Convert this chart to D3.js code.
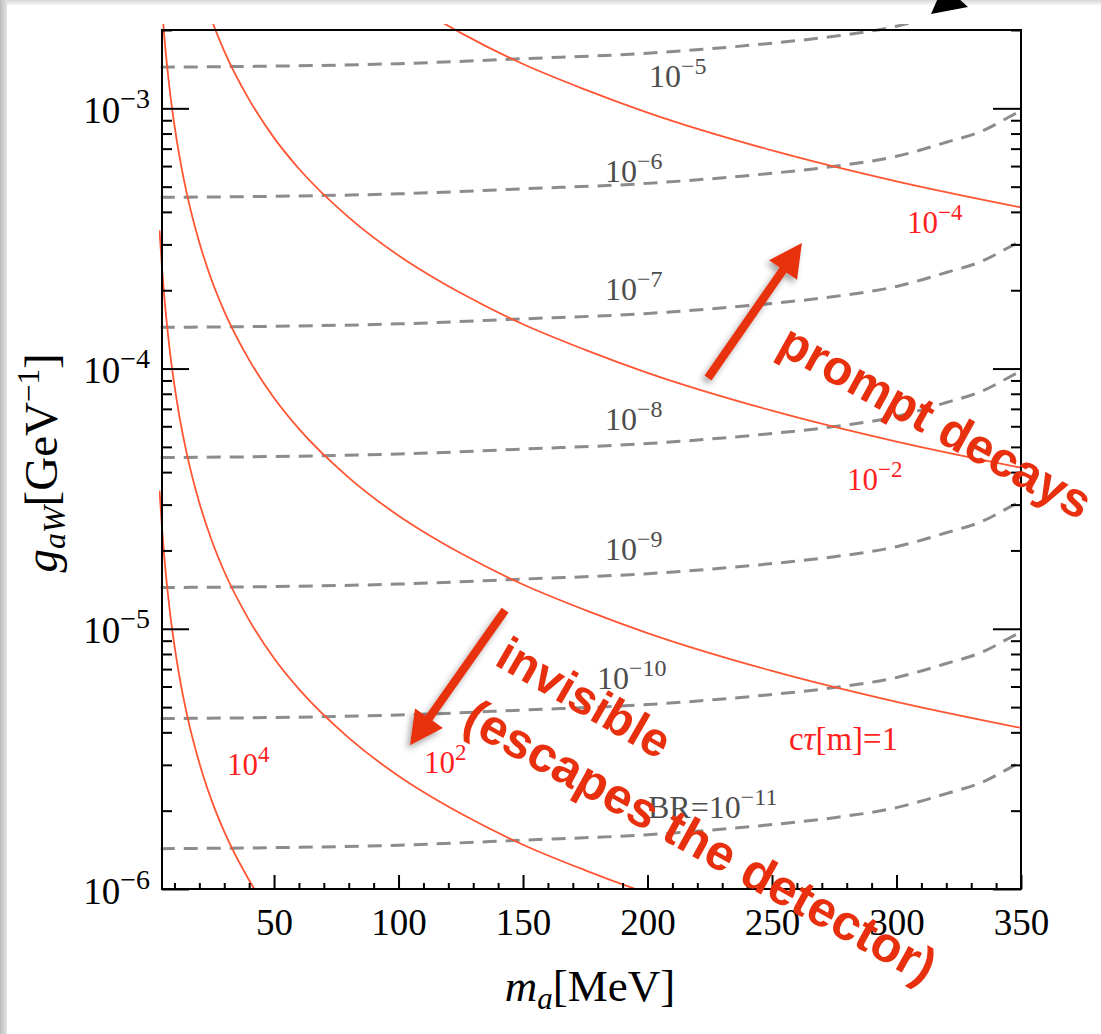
<!DOCTYPE html>
<html><head><meta charset="utf-8">
<script src="https://cdn.jsdelivr.net/npm/d3@7"></script>
<style>html,body{margin:0;padding:0;background:#fff;} svg{display:block;}</style>
</head><body>
<svg id="chart" width="1101" height="1034"></svg>
<script>
// ---------------- data ----------------
const xDomain = [5, 350];
const yDomain = [1e-6, 2e-3];
const xMajorTicks = [50, 100, 150, 200, 250, 300, 350];
const yMajorTicks = [1e-6, 1e-5, 1e-4, 1e-3];
const yMajorExp = ["−6", "−5", "−4", "−3"];
const yMinorTicks = [2e-6,3e-6,4e-6,5e-6,6e-6,7e-6,8e-6,9e-6,
                     2e-5,3e-5,4e-5,5e-5,6e-5,7e-5,8e-5,9e-5,
                     2e-4,3e-4,4e-4,5e-4,6e-4,7e-4,8e-4,9e-4,2e-3];

// decay-length contours c*tau [m]  (g_aW in GeV^-1 vs m_a in MeV)
const massRed = [4,5,6,7,8,10,12,15,20,25,30,40,50,60,80,100,110,125,150,175,200,250,300,350];
const ctau1e4  = [3.40e-5,2.44e-5,1.85e-5,1.47e-5,1.20e-5,8.61e-6,6.55e-6,4.69e-6,3.05e-6,2.18e-6,1.66e-6,1.08e-6,7.70e-7,null,null,null,null,null,null,null,null,null,null,null];
const ctau1e2  = [3.40e-4,2.44e-4,1.85e-4,1.47e-4,1.20e-4,8.61e-5,6.55e-5,4.69e-5,3.05e-5,2.18e-5,1.66e-5,1.08e-5,7.70e-6,5.86e-6,3.81e-6,2.72e-6,2.36e-6,1.95e-6,1.48e-6,1.18e-6,9.63e-7,6.89e-7,null,null];
const ctau1    = [3.40e-3,2.44e-3,1.85e-3,1.47e-3,1.20e-3,8.61e-4,6.55e-4,4.69e-4,3.05e-4,2.18e-4,1.66e-4,1.08e-4,7.70e-5,5.86e-5,3.81e-5,2.72e-5,2.36e-5,1.95e-5,1.48e-5,1.18e-5,9.63e-6,6.89e-6,5.24e-6,4.16e-6];
const ctau1em2 = [null,null,null,null,null,null,null,4.69e-3,3.05e-3,2.18e-3,1.66e-3,1.08e-3,7.70e-4,5.86e-4,3.81e-4,2.72e-4,2.36e-4,1.95e-4,1.48e-4,1.18e-4,9.63e-5,6.89e-5,5.24e-5,4.16e-5];
const ctau1em4 = [null,null,null,null,null,null,null,null,null,null,null,null,null,null,3.81e-3,2.72e-3,2.36e-3,1.95e-3,1.48e-3,1.18e-3,9.63e-4,6.89e-4,5.24e-4,4.16e-4];

// branching-ratio contours BR
const massBR = [4.5, 50, 100, 150, 200, 225, 250, 275, 300, 320, 335, 345, 350];
const br1em11 = [1.429e-6,1.442e-6,1.474e-6,1.541e-6,1.617e-6,1.683e-6,1.768e-6,1.880e-6,2.055e-6,2.326e-6,2.587e-6,2.902e-6,3.078e-6];
const br1em10 = [4.519e-6,4.560e-6,4.661e-6,4.873e-6,5.113e-6,5.322e-6,5.591e-6,5.945e-6,6.499e-6,7.355e-6,8.181e-6,9.177e-6,9.733e-6];
const br1em9  = [1.440e-5,1.453e-5,1.485e-5,1.552e-5,1.628e-5,1.694e-5,1.780e-5,1.892e-5,2.068e-5,2.340e-5,2.602e-5,2.920e-5,3.096e-5];
const br1em8  = [4.550e-5,4.592e-5,4.693e-5,4.906e-5,5.148e-5,5.358e-5,5.629e-5,5.985e-5,6.543e-5,7.405e-5,8.236e-5,9.238e-5,9.800e-5];
const br1em7  = [1.440e-4,1.453e-4,1.485e-4,1.552e-4,1.628e-4,1.694e-4,1.780e-4,1.892e-4,2.068e-4,2.340e-4,2.602e-4,2.920e-4,3.096e-4];
const br1em6  = [4.550e-4,4.592e-4,4.693e-4,4.906e-4,5.148e-4,5.358e-4,5.629e-4,5.985e-4,6.543e-4,7.405e-4,8.236e-4,9.238e-4,9.800e-4];
const br1em5  = [1.440e-3,1.453e-3,1.485e-3,1.552e-3,1.628e-3,1.694e-3,1.780e-3,1.892e-3,2.068e-3,2.340e-3,null,null,null];

// labels of BR contours
const brLabelBase = ["10","10","10","10","10","10","BR=10"];
const brLabelExp  = ["−5","−6","−7","−8","−9","−10","−11"];
const brLabelMass = [200.6, 182.9, 182.9, 182.9, 182.9, 179.7, 200.2];
const brLabelG    = [1.208e-3, 5.21e-4, 1.835e-4, 5.81e-5, 1.836e-5, 5.87e-6, 1.874e-6];

// labels of c*tau contours
const ctLabelBase = ["10","10","","10","10"];
const ctLabelExp  = ["−4","−2","","2","4"];
const ctLabelMass = [304.2, 280.1, 256.8, 110.2, 31.1];
const ctLabelG    = [3.32e-4, 3.41e-5, 3.42e-6, 2.79e-6, 2.74e-6];

// annotations
const noteText  = ["prompt decays", "invisible", "(escapes the detector)"];
const noteMass  = [312.5, 171.3, 218.0];
const noteG     = [5.50e-5, 4.79e-6, 1.336e-6];
const noteAngle = [29, 30, 29];
const noteSize  = [49, 48, 50];
const arrowTailMass = [224.3, 142.8], arrowTailG = [9.2e-5, 1.18e-5];
const arrowTipMass  = [262.0, 104.6], arrowTipG  = [3.04e-4, 3.57e-6];

// ---------------- drawing ----------------
const svg = d3.select('#chart');
const W = 1101, H = 1034;
const P = {left:162, right:1021, top:30, bottom:889};
const serif = "'Liberation Serif','Times New Roman',Times,serif";
const sans = "'Liberation Sans',Arial,Helvetica,sans-serif";
const redLine = "#ff5533", redText = "#ff1f1f", noteRed = "#e8300e";
const grayLine = "#8c8c8c", grayText = "#4d4d4d";

const x = d3.scaleLinear().domain(xDomain).range([P.left, P.right]);
const y = d3.scaleLog().domain(yDomain).range([P.bottom, P.top]);

svg.append('rect').attr('width', W).attr('height', H).attr('fill', '#fff');

const defs = svg.append('defs');
defs.append('clipPath').attr('id','plotclip').append('rect')
  .attr('x', P.left-3).attr('y', P.top-6).attr('width', P.right-P.left+4).attr('height', P.bottom-P.top+6);
const f = defs.append('filter').attr('id','shadow').attr('x','-50%').attr('y','-50%').attr('width','200%').attr('height','200%');
f.append('feDropShadow').attr('dx',-3).attr('dy',4).attr('stdDeviation',3).attr('flood-color','#000').attr('flood-opacity',0.35);
const lg = defs.append('linearGradient').attr('id','leftbar').attr('x1',0).attr('x2',1).attr('y1',0).attr('y2',0);
lg.append('stop').attr('offset','0%').attr('stop-color','#bdbdbd');
lg.append('stop').attr('offset','100%').attr('stop-color','#e4e4e4');
const tg = defs.append('linearGradient').attr('id','topbar').attr('x1',0).attr('x2',0).attr('y1',0).attr('y2',1);
tg.append('stop').attr('offset','0%').attr('stop-color','#d8d8d8');
tg.append('stop').attr('offset','100%').attr('stop-color','#f6f6f6');

// screenshot edges
svg.append('rect').attr('x',0).attr('y',0).attr('width',W).attr('height',5).attr('fill','url(#topbar)');
svg.append('rect').attr('x',0).attr('y',0).attr('width',7).attr('height',H).attr('fill','url(#leftbar)');
svg.append('path').attr('d','M931,14 L968,7 L958,-2 L938,-2 Z').attr('fill','#000');

// curves
const curves = svg.append('g').attr('clip-path','url(#plotclip)');
const line = () => d3.line()
  .defined(d => d[1] != null)
  .x(d => x(d[0])).y(d => y(d[1]))
  .curve(d3.curveMonotoneX);

const brSeries = [br1em5, br1em6, br1em7, br1em8, br1em9, br1em10, br1em11];
brSeries.forEach(s => {
  const pts = massBR.map((m,i) => [m, s[i]]);
  curves.append('path').attr('d', line()(pts)).attr('fill','none')
    .attr('stroke', grayLine).attr('stroke-width', 3).attr('stroke-dasharray','14,9');
});
const ctSeries = [ctau1em4, ctau1em2, ctau1, ctau1e2, ctau1e4];
ctSeries.forEach(s => {
  const pts = massRed.map((m,i) => [m, s[i]]);
  curves.append('path').attr('d', line()(pts)).attr('fill','none')
    .attr('stroke', redLine).attr('stroke-width', 1.8);
});

// frame
svg.append('rect').attr('x',P.left).attr('y',P.top).attr('width',P.right-P.left).attr('height',P.bottom-P.top)
  .attr('fill','none').attr('stroke','#000').attr('stroke-width',2);

// axes
function styleAxis(g){ g.select('.domain').remove(); g.selectAll('line').attr('stroke','#000').attr('stroke-width',2); }
const xMinor = d3.range(10, 350, 10).filter(v => v % 50 !== 0);
svg.append('g').attr('transform',`translate(0,${P.bottom})`)
  .call(d3.axisBottom(x).tickValues(xMinor).tickSize(-6).tickFormat('')).call(styleAxis);
const xa = svg.append('g').attr('transform',`translate(0,${P.bottom})`)
  .call(d3.axisBottom(x).tickValues(xMajorTicks).tickSize(-14).tickPadding(20).tickFormat(d3.format('d'))).call(styleAxis);
xa.selectAll('text').attr('font-family', serif).attr('font-size', 37).attr('fill','#000');

svg.append('g').attr('transform',`translate(${P.left},0)`)
  .call(d3.axisLeft(y).tickValues(yMinorTicks).tickSize(-10).tickFormat('')).call(styleAxis);
const ya = svg.append('g').attr('transform',`translate(${P.left},0)`)
  .call(d3.axisLeft(y).tickValues(yMajorTicks).tickSize(-27).tickPadding(12).tickFormat(() => '')).call(styleAxis);
ya.selectAll('text').each(function(d,i){
  const t = d3.select(this);
  t.attr('dy', null).attr('y', 14).attr('font-family', serif).attr('font-size', 37).attr('fill','#000').attr('text-anchor','end');
  t.text(null);
  t.append('tspan').text('10');
  t.append('tspan').attr('font-size', 28).attr('dy', -15).text(yMajorExp[i]);
});
svg.append('g').attr('transform',`translate(${P.right},0)`)
  .call(d3.axisRight(y).tickValues(yMinorTicks).tickSize(-10).tickFormat('')).call(styleAxis);
svg.append('g').attr('transform',`translate(${P.right},0)`)
  .call(d3.axisRight(y).tickValues(yMajorTicks).tickSize(-28).tickFormat('')).call(styleAxis);

// axis titles
const xt = svg.append('text').attr('x', 590).attr('y', 1001).attr('text-anchor','middle')
  .attr('font-family', serif).attr('font-size', 45).attr('fill','#000');
xt.append('tspan').attr('font-style','italic').text('m');
xt.append('tspan').attr('font-style','italic').attr('font-size', 31).attr('dy', 8).text('a');
xt.append('tspan').attr('dy', -8).text('[MeV]');

const yt = svg.append('text').attr('transform','translate(57,463) rotate(-90)').attr('text-anchor','middle')
  .attr('font-family', serif).attr('font-size', 47).attr('fill','#000');
yt.append('tspan').attr('font-style','italic').text('g');
yt.append('tspan').attr('font-style','italic').attr('font-size', 32).attr('dy', 8).text('aW');
yt.append('tspan').attr('dy', -8).text('[GeV');
yt.append('tspan').attr('font-size', 31).attr('dy', -18).text('−1');
yt.append('tspan').attr('dy', 18).text(']');

// contour labels
function supLabel(px, py, base, exp, size, color){
  const t = svg.append('text').attr('x', px).attr('y', py).attr('font-family', serif)
    .attr('font-size', size).attr('fill', color);
  t.append('tspan').text(base);
  t.append('tspan').attr('font-size', Math.round(size*0.75)).attr('dy', -Math.round(size*0.42)).text(exp);
  return t;
}
brLabelBase.forEach((b,i) => supLabel(x(brLabelMass[i]), y(brLabelG[i]), b, brLabelExp[i], 32, grayText));
ctLabelBase.forEach((b,i) => {
  if (b === "") {
    const t = svg.append('text').attr('x', x(ctLabelMass[i])).attr('y', y(ctLabelG[i]))
      .attr('font-family', serif).attr('font-size', 33).attr('fill', redText);
    t.append('tspan').text('c');
    t.append('tspan').attr('font-style','italic').text('τ');
    t.append('tspan').text('[m]=1');
  } else {
    supLabel(x(ctLabelMass[i]), y(ctLabelG[i]), b, ctLabelExp[i], 31, redText);
  }
});

// arrows
function arrow(x0, y0, x1, y1){
  const dx = x1-x0, dy = y1-y0, L = Math.hypot(dx,dy);
  const ux = dx/L, uy = dy/L, nx = -uy, ny = ux;
  const sw = 4.2, hl = 33, hw = 17;
  const bx = x1 - ux*hl, by = y1 - uy*hl;
  const pts = [
    [x0+nx*sw, y0+ny*sw], [bx+nx*sw, by+ny*sw], [bx+nx*hw, by+ny*hw], [x1, y1],
    [bx-nx*hw, by-ny*hw], [bx-nx*sw, by-ny*sw], [x0-nx*sw, y0-ny*sw]];
  svg.append('path').attr('d', 'M' + pts.map(p => p.join(',')).join('L') + 'Z')
    .attr('fill', noteRed).attr('filter','url(#shadow)');
}
arrowTailMass.forEach((m,i) => arrow(x(m), y(arrowTailG[i]), x(arrowTipMass[i]), y(arrowTipG[i])));

// rotated annotation texts
noteText.forEach((s,i) => {
  const px = x(noteMass[i]), py = y(noteG[i]);
  svg.append('text').attr('transform', `translate(${px},${py}) rotate(${noteAngle[i]})`)
    .attr('text-anchor','middle').attr('font-family', sans).attr('font-weight','bold')
    .attr('font-size', noteSize[i]).attr('fill', noteRed).text(s);
});
</script>
</body></html>
